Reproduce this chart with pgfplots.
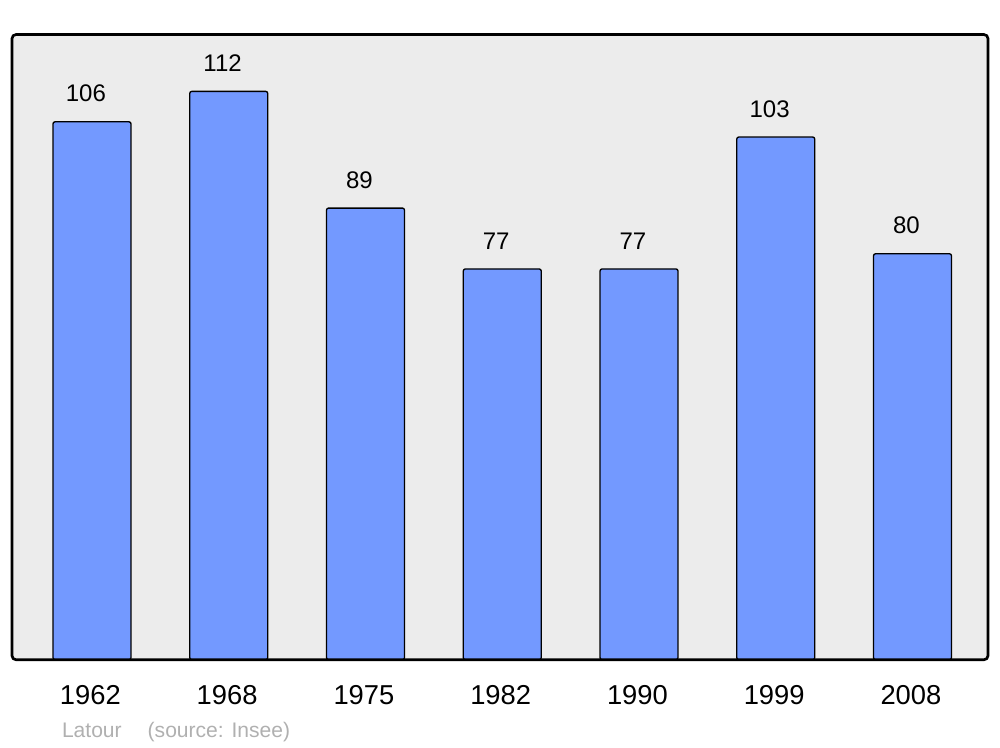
\documentclass[border=0pt]{standalone}
\usepackage{fontspec}
\setmainfont{Liberation Sans}
\usepackage{pgfplots}
\pgfplotsset{compat=1.18}
\definecolor{barblue}{HTML}{7399FF}
\definecolor{bggray}{HTML}{ECECEC}
\definecolor{srcgray}{HTML}{B0B0B0}
\begin{document}
\begin{tikzpicture}
\useasboundingbox (0,0) rectangle (750pt,-560.25pt);
\begin{axis}[
  at={(9pt,-494.8pt)}, anchor=south west,
  scale only axis, width=732pt, height=468.9pt,
  xmin=-0.585, xmax=6.552, ymin=0, ymax=123.2,
  axis line style={draw=none},
  axis background/.style={fill=bggray},
  ytick=\empty,
  xtick={0,1,2,3,4,5,6},
  xticklabels={1962,1968,1975,1982,1990,1999,2008},
  major tick length=0pt,
  xticklabel style={font=\fontsize{20.5pt}{24pt}\selectfont, anchor=north, inner sep=0pt, yshift=-19.3pt, xshift=-1.2pt},
  /pgf/number format/assume math mode=true,
  ybar, bar width=0.57, bar shift=0pt,
  nodes near coords,
  every node near coord/.append style={font=\fontsize{18pt}{22pt}\selectfont, anchor=south, inner sep=0pt, yshift=14.2pt, xshift=-4.6pt},
  clip=false,
  after end axis/.code={\draw[line width=2pt, rounded corners=3pt] (rel axis cs:0,0) rectangle (rel axis cs:1,1);},
]
\addplot[fill=barblue, draw=black, line width=1pt, rounded corners=1.5pt] coordinates {(0,106) (1,112) (2,89) (3,77) (4,77) (5,103) (6,80)};
\end{axis}
\node[anchor=base west, inner sep=0pt, text=srcgray, font=\fontsize{15.8pt}{18pt}\selectfont] at (46.3pt,-553pt) {Latour\hspace*{19.5pt}(source: Insee)};
\end{tikzpicture}
\end{document}
